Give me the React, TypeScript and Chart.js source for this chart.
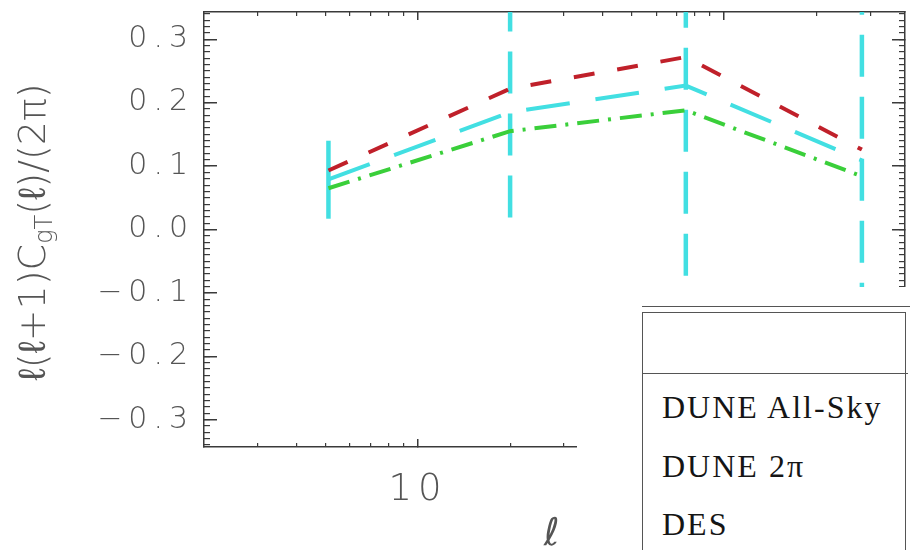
import React, { useEffect, useRef } from "react";
import { Chart, registerables } from "chart.js";

Chart.register(...registerables);

// ---- data ----
const ellCenters = [5.1, 20, 75, 282];
const duneAllSky = [0.093, 0.222, 0.272, 0.126]; // red dashed
const dune2pi = [0.079, 0.185, 0.227, 0.109]; // cyan long dashed
const des = [0.065, 0.155, 0.188, 0.084]; // green dash-dot
const errLow = [0.017, 0.019, -0.073, -0.248];
const errHigh = [0.14, 0.46, 0.52, 0.47];

const yMajorTicks = [-0.3, -0.2, -0.1, 0.0, 0.1, 0.2, 0.3];
const yMinorTicks = Array.from({ length: 69 }, (_, i) => (i - 34) / 100);
const xMajorTicks = [10, 100];
const xTickLabels = ["10", "100"];
const xMinorTicks = [3, 4, 5, 6, 7, 8, 9, 20, 30, 40, 50, 60, 70, 80, 90, 200, 300];

const yTitleMain1 = "ℓ(ℓ+1)C";
const yTitleSub = "gT";
const yTitleMain2 = "(ℓ)/(2π)";
const xTitle = "ℓ";
const tableRows = ["DUNE All-Sky", "DUNE 2π", "DES"];

const Y_MIN = -0.343;
const Y_MAX = 0.343;
const X_MIN = 2;
const X_MAX = 390;

const FONT = "'DejaVu Sans', sans-serif";
const AX = "#3a3a3a";
const TXT = "#555555";
const RED = "#c0202a";
const CYAN = "#42dfe2";
const GREEN = "#3acf3a";
const SPACING = 6;

const fix = (w?: number, h?: number) => (s: any) => {
  if (w !== undefined) s.width = w;
  if (h !== undefined) s.height = h;
  s.paddingTop = 0;
  s.paddingBottom = 0;
  s.paddingLeft = 0;
  s.paddingRight = 0;
};

const setTicks = (vals: number[]) => (s: any) => {
  s.ticks = vals.map((v) => ({ value: v }));
};

const fmtY = (v: any) => {
  const n = Number(v);
  if (Math.abs(n) < 1e-9) return "0.0";
  return (n < 0 ? "−" : "") + Math.abs(n).toFixed(1);
};

// wide letter spacing for the axis text (Hershey-like look)
const spacingPlugin = {
  id: "axisSpacing",
  beforeDraw(chart: any) {
    (chart.ctx as any).letterSpacing = SPACING + "px";
  },
  beforeDatasetsDraw(chart: any) {
    (chart.ctx as any).letterSpacing = "0px";
  },
};

const yTitlePlugin = {
  id: "yTitle",
  afterDraw(chart: any) {
    const ctx = chart.ctx as CanvasRenderingContext2D;
    (ctx as any).letterSpacing = "0px";
    const main = `200 38px ${FONT}`;
    const sub = `200 24px ${FONT}`;
    ctx.save();
    ctx.translate(35, 232);
    ctx.rotate(-Math.PI / 2);
    ctx.fillStyle = TXT;
    ctx.textBaseline = "middle";
    ctx.textAlign = "left";
    ctx.font = main;
    const w1 = ctx.measureText(yTitleMain1).width;
    const w3 = ctx.measureText(yTitleMain2).width;
    ctx.font = sub;
    const w2 = ctx.measureText(yTitleSub).width;
    let x = -(w1 + w2 + w3) / 2;
    ctx.font = main;
    ctx.fillText(yTitleMain1, x, 0);
    x += w1;
    ctx.font = sub;
    ctx.fillText(yTitleSub, x, 11);
    x += w2;
    ctx.font = main;
    ctx.fillText(yTitleMain2, x, 0);
    ctx.restore();
  },
};

const series = (vals: number[]) => ellCenters.map((x, i) => ({ x, y: vals[i] }));

export default function App() {
  const ref = useRef<HTMLCanvasElement | null>(null);

  useEffect(() => {
    if (!ref.current) return;

    const errDatasets = ellCenters.map((x, i) => ({
      label: "err" + i,
      data: [
        { x, y: errLow[i] },
        { x, y: errHigh[i] },
      ],
      borderColor: CYAN,
      borderWidth: 4.5,
      borderDash: i === 0 ? [] : [42, 20],
      borderCapStyle: "butt" as const,
      pointRadius: 0,
      fill: false,
      xAxisID: "x",
      yAxisID: "y",
    }));

    const minorY = (position: string) => ({
      type: "linear",
      position,
      weight: 0,
      min: Y_MIN,
      max: Y_MAX,
      afterBuildTicks: setTicks(yMinorTicks),
      afterFit: fix(0, undefined),
      grid: { drawOnChartArea: false, drawTicks: true, tickLength: -6, color: AX, lineWidth: 1.2 },
      border: { display: false },
      ticks: { display: false },
    });

    const minorX = (position: string) => ({
      type: "logarithmic",
      position,
      weight: 0,
      min: X_MIN,
      max: X_MAX,
      afterBuildTicks: setTicks(xMinorTicks),
      afterFit: fix(undefined, 0),
      grid: { drawOnChartArea: false, drawTicks: true, tickLength: -4, color: AX, lineWidth: 1.2 },
      border: { display: false },
      ticks: { display: false },
    });

    const chart = new Chart(ref.current, {
      type: "line",
      data: {
        datasets: [
          {
            label: "DUNE All-Sky",
            data: series(duneAllSky),
            borderColor: RED,
            borderWidth: 4,
            borderDash: [21, 23],
            borderCapStyle: "butt",
            pointRadius: 0,
            fill: false,
            xAxisID: "x",
            yAxisID: "y",
          },
          {
            label: "DUNE 2π",
            data: series(dune2pi),
            borderColor: CYAN,
            borderWidth: 4,
            borderDash: [44, 26],
            borderCapStyle: "butt",
            pointRadius: 0,
            fill: false,
            xAxisID: "x",
            yAxisID: "y",
          },
          {
            label: "DES",
            data: series(des),
            borderColor: GREEN,
            borderWidth: 4,
            borderDash: [22, 9, 3, 9],
            borderCapStyle: "butt",
            pointRadius: 0,
            fill: false,
            xAxisID: "x",
            yAxisID: "y",
          },
          ...errDatasets,
        ] as any,
      },
      options: {
        responsive: false,
        animation: false,
        layout: { padding: { top: 12, right: 5, left: 0, bottom: 0 } },
        plugins: { legend: { display: false }, tooltip: { enabled: false } },
        scales: {
          y: {
            type: "linear",
            position: "left",
            weight: 10,
            min: Y_MIN,
            max: Y_MAX,
            afterBuildTicks: setTicks(yMajorTicks),
            afterFit: fix(204, undefined),
            grid: { drawOnChartArea: false, drawTicks: true, tickLength: -13, color: AX, lineWidth: 1.5 },
            border: { display: true, color: AX, width: 1.5 },
            ticks: {
              autoSkip: false,
              padding: 29 - SPACING,
              color: TXT,
              font: { family: FONT, size: 30, weight: "200" as any, lineHeight: 1 },
              callback: (v: any) => fmtY(v),
            },
          },
          y2: minorY("left"),
          yR: {
            type: "linear",
            position: "right",
            weight: 10,
            min: Y_MIN,
            max: Y_MAX,
            afterBuildTicks: setTicks(yMajorTicks),
            afterFit: fix(0, undefined),
            grid: { drawOnChartArea: false, drawTicks: true, tickLength: -13, color: AX, lineWidth: 1.5 },
            border: { display: true, color: AX, width: 1.5 },
            ticks: { display: false },
          },
          yR2: minorY("right"),
          x: {
            type: "logarithmic",
            position: "bottom",
            weight: 10,
            min: X_MIN,
            max: X_MAX,
            afterBuildTicks: setTicks(xMajorTicks),
            afterFit: fix(undefined, 103),
            grid: { drawOnChartArea: false, drawTicks: true, tickLength: -8, color: AX, lineWidth: 1.5 },
            border: { display: true, color: AX, width: 1.5 },
            ticks: {
              autoSkip: false,
              maxRotation: 0,
              padding: 33,
              color: TXT,
              font: { family: FONT, size: 37, weight: "200" as any, lineHeight: 1 },
              callback: (v: any) => {
                const i = xMajorTicks.indexOf(Number(v));
                return i >= 0 ? xTickLabels[i] : "";
              },
            },
            title: {
              display: true,
              text: xTitle,
              color: TXT,
              font: { family: FONT, size: 38, style: "italic", weight: "200" as any, lineHeight: 1 },
              padding: { top: 0, bottom: -4 },
            },
          },
          x2: minorX("bottom"),
          xT: {
            type: "logarithmic",
            position: "top",
            weight: 10,
            min: X_MIN,
            max: X_MAX,
            afterBuildTicks: setTicks(xMajorTicks),
            afterFit: fix(undefined, 0),
            grid: { drawOnChartArea: false, drawTicks: true, tickLength: -8, color: AX, lineWidth: 1.5 },
            border: { display: true, color: AX, width: 1.5 },
            ticks: { display: false },
          },
          xT2: minorX("top"),
        } as any,
      },
      plugins: [spacingPlugin, yTitlePlugin],
    });

    return () => chart.destroy();
  }, []);

  const line = "1.5px solid #555";
  const rowTops = [391, 450, 508];

  return (
    <div
      style={{
        position: "fixed",
        left: 0,
        top: 0,
        width: 910,
        height: 550,
        overflow: "hidden",
        background: "#ffffff",
      }}
    >
      <canvas ref={ref} width={910} height={550} style={{ display: "block", width: 910, height: 550 }} />
      <div style={{ position: "absolute", left: 577, top: 287, width: 333, height: 263, background: "#ffffff" }} />
      <div style={{ position: "absolute", left: 642, top: 306, width: 268, height: 0, borderTop: line }} />
      <div
        style={{
          position: "absolute",
          left: 642,
          top: 312,
          width: 262,
          height: 260,
          borderLeft: line,
          borderTop: line,
          borderRight: line,
        }}
      />
      <div style={{ position: "absolute", left: 642, top: 373, width: 266, height: 0, borderTop: line }} />
      {tableRows.map((t, i) => (
        <div
          key={t}
          style={{
            position: "absolute",
            left: 662,
            top: rowTops[i],
            font: "32px 'Liberation Serif', serif",
            lineHeight: "32px",
            letterSpacing: "2px",
            color: "#151515",
            whiteSpace: "nowrap",
          }}
        >
          {t}
        </div>
      ))}
    </div>
  );
}
